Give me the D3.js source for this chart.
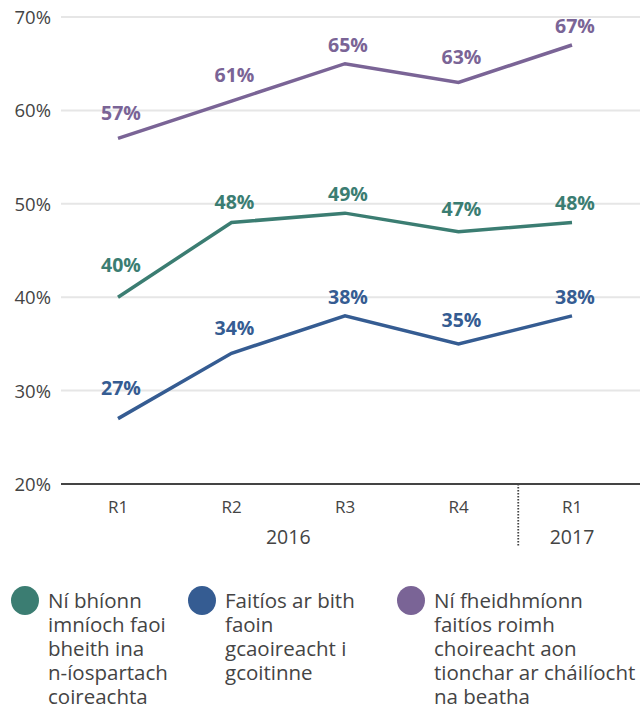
<!DOCTYPE html>
<html><head><meta charset="utf-8">
<script src="https://cdn.jsdelivr.net/npm/d3@7"></script>
<style>
html,body{margin:0;padding:0;background:#fff;}
svg{display:block;font-family:"Open Sans",sans-serif;}
</style></head>
<body><svg id="c" width="640" height="711"></svg>
<script>
const categories = ["R1","R2","R3","R4","R1"];
const years = [{label:"2016", from:0, to:3},{label:"2017", from:4, to:4}];
const seriesNames = [
  ["Ní bhíonn","imníoch faoi","bheith ina","n-íospartach","coireachta"],
  ["Faitíos ar bith","faoin","gcaoireacht i","gcoitinne"],
  ["Ní fheidhmíonn","faitíos roimh","choireacht aon","tionchar ar cháilíocht","na beatha"]
];
const seriesColors = ["#3b7d72","#355c92","#7a6496"];
const greenValues = [40,48,49,47,48];
const blueValues = [27,34,38,35,38];
const purpleValues = [57,61,65,63,67];
const yTicks = [20,30,40,50,60,70];
const series = [greenValues, blueValues, purpleValues];

(function(){
const svg = d3.select("#c");
const mLeft = 61, mRight = 640, mTop = 17, mBottom = 484;
const x = d3.scaleBand().domain(d3.range(categories.length)).range([61.25, 628.75]);
const y = d3.scaleLinear().domain([20,70]).range([mBottom, mTop]);

svg.append("g").selectAll("line").data(yTicks.filter(d=>d>20)).join("line")
  .attr("x1", mLeft).attr("x2", mRight)
  .attr("y1", d=>y(d)).attr("y2", d=>y(d))
  .attr("stroke","#e6e6e6").attr("stroke-width",2);

svg.append("g").selectAll("text").data(yTicks).join("text")
  .attr("x", 51).attr("y", d=>y(d)+7)
  .attr("text-anchor","end").attr("font-size",18.5).attr("fill","#444")
  .text(d=>d+"%");

svg.append("line").attr("x1",mLeft).attr("x2",mRight).attr("y1",mBottom).attr("y2",mBottom)
  .attr("stroke","#444").attr("stroke-width",2);

svg.append("g").selectAll("text").data(categories).join("text")
  .attr("x",(d,i)=>x(i)+x.bandwidth()/2).attr("y",513)
  .attr("text-anchor","middle").attr("font-size",17).attr("fill","#444").text(d=>d);

svg.append("g").selectAll("text").data(years).join("text")
  .attr("x",d=>(x(d.from)+x(d.to)+x.bandwidth())/2).attr("y",544)
  .attr("text-anchor","middle").attr("font-size",19.5).attr("fill","#444").text(d=>d.label);

const sepX = x(4) + 3;
svg.append("line").attr("x1",sepX).attr("x2",sepX).attr("y1",mBottom).attr("y2",547)
  .attr("stroke","#444").attr("stroke-width",1.8).attr("stroke-dasharray","1.5,1.5");

const line = d3.line().x((d,i)=>x(i)+x.bandwidth()/2).y(d=>y(d));
series.forEach((vals,si)=>{
  svg.append("path").datum(vals).attr("d",line).attr("fill","none")
    .attr("stroke",seriesColors[si]).attr("stroke-width",3.5).attr("stroke-linejoin","miter");
  svg.append("g").selectAll("text").data(vals).join("text")
    .attr("x",(d,i)=>x(i)+x.bandwidth()/2+3)
    .attr("y",(d,i)=>{
      const py = y(d);
      const nb = [];
      if(i>0) nb.push(y(vals[i-1]));
      if(i<vals.length-1) nb.push(y(vals[i+1]));
      const diff = Math.max(0, py - Math.min(...nb));
      return py - 12 - 0.18*diff;
    })
    .attr("text-anchor","middle").attr("font-size",19.5).attr("font-weight","bold")
    .attr("fill",seriesColors[si]).text(d=>d+"%");
});

const legX = [25, 202, 411];
seriesNames.forEach((lines,si)=>{
  const g = svg.append("g");
  g.append("ellipse").attr("cx",legX[si]).attr("cy",600.5).attr("rx",14).attr("ry",14.5).attr("fill",seriesColors[si]);
  g.append("text").attr("x",legX[si]+23).attr("y",608).attr("font-size",20.5).attr("fill","#444")
    .selectAll("tspan").data(lines).join("tspan")
    .attr("x",legX[si]+23).attr("dy",(d,i)=>i===0?0:24).text(d=>d);
});
})();
</script></body></html>
